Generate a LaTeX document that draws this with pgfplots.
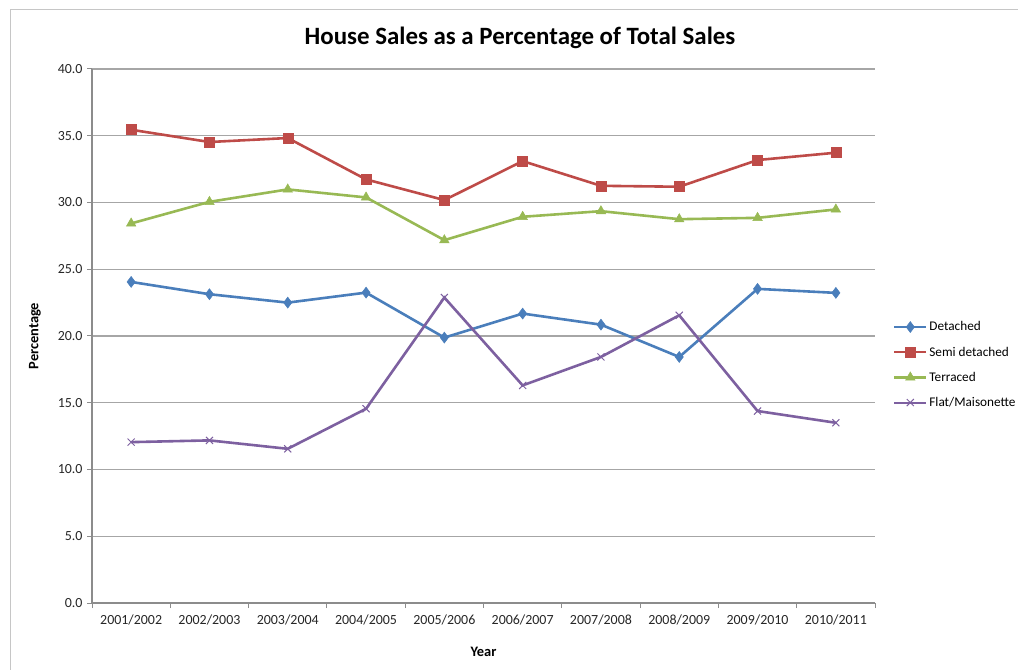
\documentclass[border=0pt]{standalone}
\usepackage{fontspec}
\setmainfont{Carlito}
\usepackage{pgfplots}
\usepackage{pgfplotstable}
\pgfplotsset{compat=1.18}

\definecolor{xlblue}{HTML}{4A7EBB}
\definecolor{xlred}{HTML}{BE4B48}
\definecolor{xlgreen}{HTML}{98B954}
\definecolor{xlpurple}{HTML}{7D60A0}
\definecolor{gridgray}{HTML}{A6A6A6}
\definecolor{axisgray}{HTML}{8C8C8C}

% house sales share by type, per year (index 0 = 2001/2002)
\pgfplotstableread{
x det semi terr flat
0 24.05 35.45 28.43 12.05
1 23.13 34.53 30.05 12.18
2 22.50 34.83 30.98 11.55
3 23.25 31.73 30.38 14.55
4 19.88 30.18 27.18 22.88
5 21.68 33.10 28.93 16.30
6 20.85 31.25 29.35 18.43
7 18.43 31.18 28.75 21.55
8 23.53 33.18 28.85 14.38
9 23.23 33.73 29.48 13.50
}\sales

\begin{document}
\begin{tikzpicture}
\path[use as bounding box] (0,0) rectangle (1018bp,670bp);
\draw[gray!45, line width=1bp] (10bp,0) -- (10bp,660bp) -- (1018bp,660bp);
\node[font=\fontsize{25}{30}\selectfont\bfseries] at (520bp,632bp)
  {House Sales as a Percentage of Total Sales};
\begin{axis}[
    at={(92bp,67bp)}, anchor=south west,
    scale only axis, width=783bp, height=534bp,
    xmin=-0.5, xmax=9.5, ymin=0, ymax=40,
    axis x line*=bottom,
    axis y line*=left,
    axis line style={draw=none},
    after end axis/.code={
      \draw[axisgray, line width=1.2bp] (rel axis cs:0,1) -- (rel axis cs:0,0) -- (rel axis cs:1,0);},
    ytick={0,5,...,40},
    ymajorgrids,
    grid style={gridgray, line width=1.1bp},
    xtick={-0.5,0.5,1.5,2.5,3.5,4.5,5.5,6.5,7.5,8.5,9.5},
    x tick label as interval,
    xticklabels={2001/2002,2002/2003,2003/2004,2004/2005,2005/2006,2006/2007,2007/2008,2008/2009,2009/2010,2010/2011},
    tick align=outside,
    major tick length=5bp,
    tick style={axisgray, line width=1bp},
    /pgf/number format/fixed,
    /pgf/number format/fixed zerofill,
    /pgf/number format/precision=1,
    /pgf/number format/assume math mode=true,
    ticklabel style={font=\fontsize{14}{16}\selectfont, text=black!85},
    xticklabel style={yshift=-3bp},
    yticklabel style={xshift=-1bp},
    xlabel={Year},
    ylabel={Percentage},
    label style={font=\fontsize{14.5}{17}\selectfont\bfseries},
    xlabel style={at={(axis description cs:0.5,-0.0918)}, anchor=center},
    ylabel style={at={(axis description cs:-0.0728,0.5)}, anchor=center},
    every axis plot/.append style={line width=2.6bp},
    legend style={at={(1.023,0.446)}, anchor=west, draw=none, fill=none,
      font=\fontsize{13.3}{16}\selectfont, row sep=10.5bp,
      inner sep=0pt},
    legend cell align=left,
    legend image code/.code={
      \draw[mark repeat=2, mark phase=2, line width=2.2bp]
        plot coordinates {(0bp,0bp) (16bp,0bp) (32bp,0bp)};},
]
\addplot[color=xlblue, mark=diamond*, mark size=5.5bp, mark options={solid, line width=0.5bp}] table[x=x, y=det] {\sales};
\addlegendentry{Detached}
\addplot[color=xlred, mark=square*, mark size=5bp, mark options={solid, line width=0.5bp}] table[x=x, y=semi] {\sales};
\addlegendentry{Semi detached}
\addplot[color=xlgreen, mark=triangle*, mark size=5.5bp, mark options={solid, line width=0.5bp}] table[x=x, y=terr] {\sales};
\addlegendentry{Terraced}
\addplot[color=xlpurple, mark=x, mark size=5bp, mark options={solid, line width=1bp}] table[x=x, y=flat] {\sales};
\addlegendentry{Flat/Maisonette}
\end{axis}
\end{tikzpicture}
\end{document}
